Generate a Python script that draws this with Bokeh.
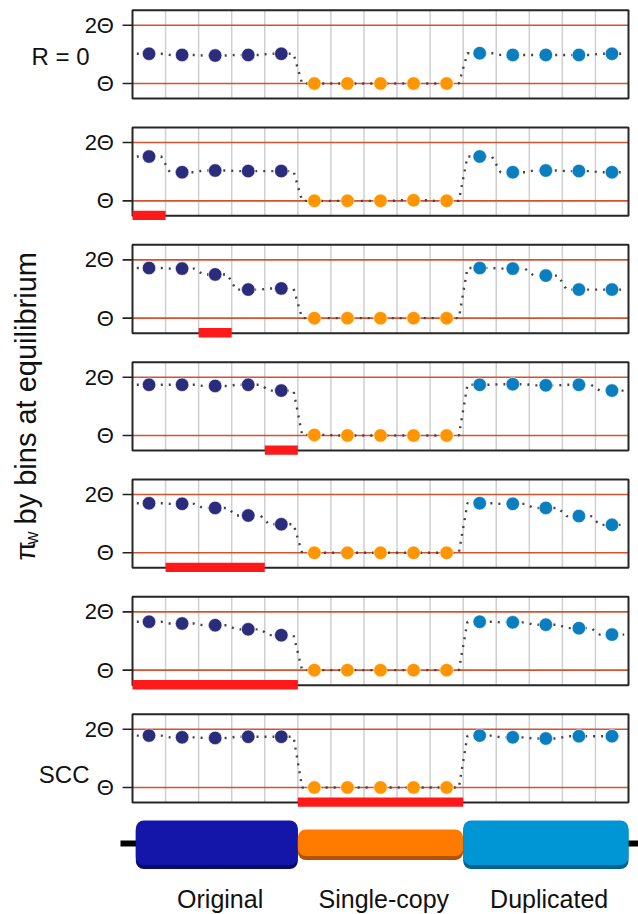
import numpy as np
from bokeh.plotting import figure
from bokeh.models import Range1d
from bokeh.core.properties import value
from bokeh.embed import file_html
from bokeh.resources import INLINE

# ---------------- data ----------------
segments = ["Original", "Single-copy", "Duplicated"]
bins_per_segment = 5
panel_labels = ["R = 0", "", "", "", "", "", "SCC"]
tick_labels = ["Θ", "2Θ"]
tick_values = [1, 2]

original = [
    [1.51, 1.49, 1.48, 1.49, 1.51],
    [1.76, 1.49, 1.52, 1.51, 1.51],
    [1.86, 1.85, 1.75, 1.49, 1.51],
    [1.87, 1.87, 1.85, 1.87, 1.77],
    [1.85, 1.84, 1.77, 1.64, 1.49],
    [1.83, 1.80, 1.77, 1.70, 1.60],
    [1.89, 1.86, 1.85, 1.87, 1.87],
]
single_copy = [
    [1.00, 1.00, 1.00, 1.00, 1.00],
    [1.00, 1.00, 1.00, 1.01, 1.00],
    [1.00, 1.00, 1.00, 1.00, 1.00],
    [1.01, 1.00, 1.00, 1.00, 1.00],
    [1.00, 1.00, 1.00, 1.00, 1.00],
    [1.00, 1.00, 1.00, 1.00, 1.00],
    [1.00, 1.00, 1.00, 1.00, 1.00],
]
duplicated = [
    [1.52, 1.49, 1.49, 1.49, 1.51],
    [1.76, 1.49, 1.52, 1.51, 1.49],
    [1.86, 1.85, 1.73, 1.49, 1.49],
    [1.87, 1.88, 1.86, 1.87, 1.77],
    [1.85, 1.84, 1.77, 1.63, 1.48],
    [1.83, 1.82, 1.78, 1.72, 1.61],
    [1.89, 1.86, 1.84, 1.88, 1.88],
]
# recombining region (in bins) per panel
rec_start = [None, 0, 2, 4, 1, 0, 5]
rec_end = [None, 1, 3, 5, 4, 5, 10]

axis_title_main = "π"
axis_title_sub = "w"
axis_title_rest = "by bins at equilibrium"

# ---------------- layout / style ----------------
W, H = 638, 914
BIN_PX = (628 - 132) / 15.0        # px per bin
UNIT_PX = 58.3                      # px per Θ
PANEL_STEP = 117.33 / UNIT_PX       # vertical step between panels (Θ units)
LEFT_PX, THETA0_PX = 132, 83
PAD = 15 / UNIT_PX
NB = bins_per_segment * len(segments)

def sx(px):  # canvas px -> data x
    return (px - LEFT_PX) / BIN_PX

def sy(px):  # canvas px -> data y
    return 1 - (px - THETA0_PX) / UNIT_PX

def gy(k, v):
    return v - k * PANEL_STEP

seg_colors = ["#2b2c7c", "#ff9500", "#0a7ebf"]
gene_colors = ["#1416aa", "#ff7b00", "#0095d5"]
gene_shade = ["#0a0c6a", "#b45200", "#00638f"]
RED_LINE = "#d4532f"
FONT = "Liberation Sans"

p = figure(width=W, height=H, x_range=Range1d(sx(0), sx(W)), y_range=Range1d(sy(H), sy(0)),
           output_backend="svg", toolbar_location=None, min_border=0,
           x_axis_location=None, y_axis_location=None)
p.grid.visible = False
p.outline_line_color = None
p.background_fill_color = "white"

n_panels = len(original)
for k in range(n_panels):
    vals = original[k] + single_copy[k] + duplicated[k]
    centers = np.arange(NB) + 0.5
    # grid lines
    gx = list(range(1, NB))
    p.segment(x0=gx, x1=gx, y0=[gy(k, 1 - PAD)] * len(gx), y1=[gy(k, 2 + PAD)] * len(gx),
              line_color="#cfcfcf", line_width=1.5)
    # reference lines Θ and 2Θ
    for tv in tick_values:
        p.segment(x0=[0], x1=[NB], y0=[gy(k, tv)], y1=[gy(k, tv)], line_color=RED_LINE, line_width=1.6)
        p.segment(x0=[-0.3], x1=[0], y0=[gy(k, tv)], y1=[gy(k, tv)], line_color="#222222", line_width=1.6)
    p.text(x=[-0.56] * 2, y=[gy(k, tv) for tv in tick_values], text=tick_labels,
           text_align="right", text_baseline="middle", text_font=value(FONT),
           text_font_size="22px", text_color="#111111")
    # dotted connecting line
    lx, ly = [], []
    for i, v in enumerate(vals):
        lx += [i + 0.13, i + 0.87]
        ly += [gy(k, v), gy(k, v)]
    p.line(lx, ly, line_color="#444444", line_width=2.4, line_dash="2 6")
    # points
    cols = [seg_colors[i // bins_per_segment] for i in range(NB)]
    p.scatter(centers, [gy(k, v) for v in vals], size=13.5, fill_color=cols, line_color="white",
              line_width=0.6)
    # box
    p.quad(left=[0], right=[NB], bottom=[gy(k, 1 - PAD)], top=[gy(k, 2 + PAD)],
           fill_color=None, line_color="#262626", line_width=2)
    # recombining region bar
    if rec_start[k] is not None:
        p.quad(left=[rec_start[k]], right=[rec_end[k]], bottom=[gy(k, 1 - 0.33)], top=[gy(k, 1 - 0.17)],
               fill_color="#ff1a1a", line_color=None)
    # panel label
    if panel_labels[k]:
        lv = 1.46 if k == 0 else 1.22
        p.text(x=[sx(89)], y=[gy(k, lv)], text=[panel_labels[k]], text_align="right",
               text_baseline="middle", text_font=value(FONT), text_font_size="24px",
               text_color="#111111")

# ---------------- gene diagram ----------------
gene_y = sy(843)
big_h = 23 / UNIT_PX
small_h = 14 / UNIT_PX
p.segment(x0=[sx(120)], x1=[sx(W)], y0=[gene_y], y1=[gene_y], line_color="black", line_width=6)
seg_left = [i * bins_per_segment for i in range(len(segments))]
seg_right = [(i + 1) * bins_per_segment for i in range(len(segments))]
seg_left[0] += 0.1
for i, name in enumerate(segments):
    h = small_h if i == 1 else big_h
    p.quad(left=[seg_left[i]], right=[seg_right[i]], bottom=[gene_y - h - 2.5 / UNIT_PX],
           top=[gene_y + h - 2.5 / UNIT_PX], fill_color=gene_shade[i], line_color=None, border_radius=8)
    p.quad(left=[seg_left[i]], right=[seg_right[i]], bottom=[gene_y - h + 1.5 / UNIT_PX],
           top=[gene_y + h], fill_color=gene_colors[i], line_color=None, border_radius=8)
p.text(x=[(l + r) / 2 + 0.1 for l, r in zip(seg_left, seg_right)], y=[sy(898)] * 3, text=segments,
       text_align="center", text_baseline="middle", text_font=value(FONT),
       text_font_size="25px", text_color="#111111")

# ---------------- y axis title ----------------
y0 = 560
p.text(x=[sx(25)], y=[sy(y0)], text=[axis_title_main], angle=np.pi / 2, text_align="left",
       text_baseline="middle", text_font=value(FONT), text_font_size="28px", text_color="#111111")
p.text(x=[sx(31)], y=[sy(y0 - 16)], text=[axis_title_sub], angle=np.pi / 2, text_align="left",
       text_baseline="middle", text_font=value(FONT), text_font_size="18px", text_color="#111111")
p.text(x=[sx(25)], y=[sy(y0 - 36)], text=[axis_title_rest], angle=np.pi / 2, text_align="left",
       text_baseline="middle", text_font=value(FONT), text_font_size="29px", text_color="#111111")

open("out.html", "w").write(file_html(p, INLINE))
